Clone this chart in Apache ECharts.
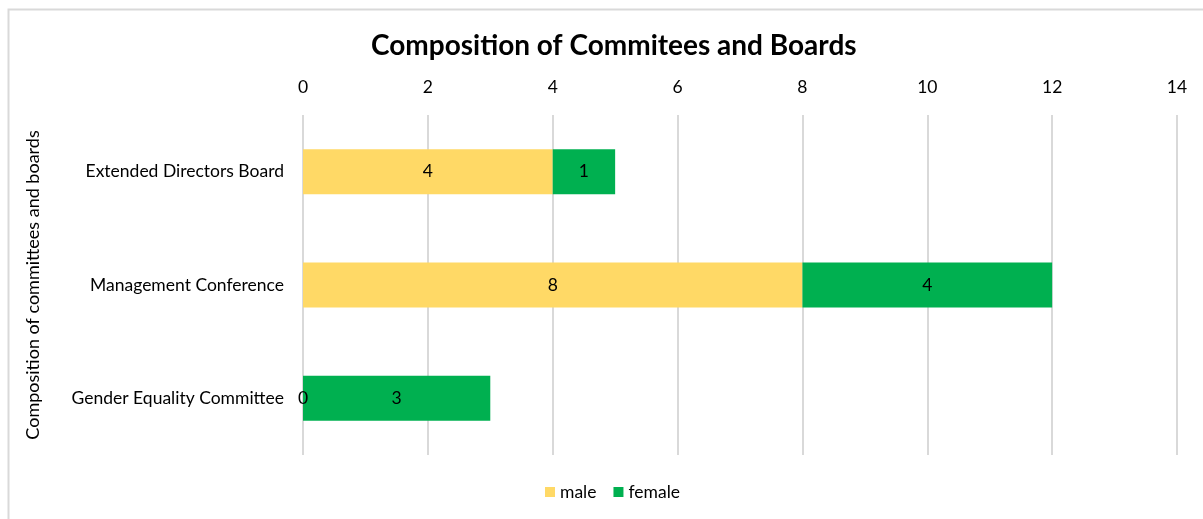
<!DOCTYPE html>
<html>
<head>
<meta charset="utf-8">
<script src="https://cdn.jsdelivr.net/npm/echarts@6/dist/echarts.min.js"></script>
<style>
html,body{margin:0;padding:0;background:#fff;}
#chart{width:1203px;height:519px;}
</style>
</head>
<body>
<div id="chart"></div>
<script>
const categories = ["Extended Directors Board", "Management Conference", "Gender Equality Committee"];
const male = [4, 8, 0];
const female = [1, 4, 3];
const seriesNames = ["male", "female"];

const font = "Lato, 'Open Sans', sans-serif";
const fs = 17.5;
const chart = echarts.init(document.getElementById('chart'));
chart.setOption({
  animation: false,
  backgroundColor: '#fff',
  title: {
    text: 'Composition of Commitees and Boards',
    left: 366,
    top: 27,
    textStyle: { fontFamily: font, fontSize: 28, fontWeight: 'bold', color: '#000' }
  },
  graphic: [{
    type: 'rect',
    shape: { x: 8.5, y: 9.5, width: 1210, height: 530 },
    style: { fill: 'none', stroke: '#D9D9D9', lineWidth: 2 },
    silent: true
  }],
  legend: {
    data: seriesNames,
    bottom: 13,
    left: 540,
    itemWidth: 10,
    itemHeight: 10,
    itemGap: 17,
    icon: 'rect',
    textStyle: { fontFamily: font, fontSize: fs, color: '#000' }
  },
  grid: { left: 303, right: 26, top: 115, bottom: 64 },
  xAxis: {
    type: 'value',
    position: 'top',
    min: 0, max: 14, interval: 2,
    axisLine: { show: false },
    axisTick: { show: false },
    axisLabel: { fontFamily: font, fontSize: fs, color: '#000', margin: 19 },
    splitLine: { show: true, lineStyle: { color: '#D9D9D9', width: 2 } }
  },
  yAxis: {
    type: 'category',
    data: categories,
    inverse: true,
    name: 'Composition of committees and boards',
    nameLocation: 'middle',
    nameGap: 261,
    nameRotate: 90,
    nameTextStyle: { fontFamily: font, fontSize: 18, color: '#000' },
    axisLine: { show: false },
    axisTick: { show: false },
    axisLabel: { fontFamily: font, fontSize: fs, color: '#000', margin: 19 }
  },
  series: [
    {
      name: seriesNames[0], type: 'bar', stack: 'total', data: male, barWidth: 45,
      itemStyle: { color: '#FFD966' },
      label: { show: true, position: 'inside', fontFamily: font, fontSize: fs, color: '#000' }
    },
    {
      name: seriesNames[1], type: 'bar', stack: 'total', data: female, barWidth: 45,
      itemStyle: { color: '#00B050' },
      label: { show: true, position: 'inside', fontFamily: font, fontSize: fs, color: '#000' }
    }
  ]
});
</script>
</body>
</html>
